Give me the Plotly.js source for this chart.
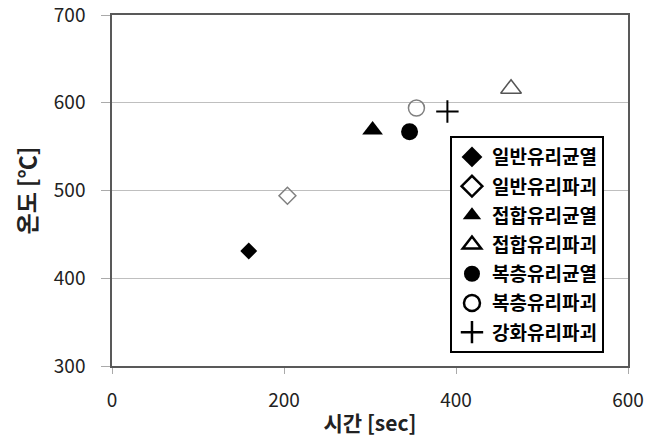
<!DOCTYPE html>
<html><head><meta charset="utf-8">
<script src="https://cdn.plot.ly/plotly-3.0.1.min.js"></script>
<style>body{margin:0;background:#fff}#c{width:651px;height:446px}</style>
</head><body><div id="c"></div>
<script>
const seriesNames = ["일반유리균열","일반유리파괴","접합유리균열","접합유리파괴","복층유리균열","복층유리파괴","강화유리파괴"];
const timeSec = [159, 204, 303, 464, 346, 354, 390];
const tempC = [431, 494, 569, 616, 567, 594, 590];
const symbols = ["diamond","diamond-open","triangle-up","triangle-up-open","circle","circle-open","cross-thin"];
const colors = ["#000","#808080","#000","#555","#000","#808080","#000"];
const sizes = [13,13,18,18,17,16,16];

const dataTraces = seriesNames.map((n,i)=>({
  type:'scatter', mode:'markers', name:n, x:[timeSec[i]], y:[tempC[i]], showlegend:false,
  marker:{symbol:symbols[i], size:sizes[i], color:colors[i],
    line:{width:symbols[i]==='cross-thin'?2:(symbols[i].includes('open')?1.5:0), color:colors[i]}}
}));
const legendTraces = seriesNames.map((n,i)=>({
  type:'scatter', mode:'markers', name:n, x:[null], y:[null], legendgroup:'g'+i, hoverinfo:'skip',
  marker:{symbol:symbols[i], size:16, color:'#000',
    line:{width:(symbols[i].includes('open')||symbols[i]==='cross-thin')?2.5:0, color:'#000'}}
}));

const layout = {
  width:651, height:446,
  margin:{l:112, r:23, t:15, b:80},
  paper_bgcolor:'#fff', plot_bgcolor:'#fff',
  font:{family:'"Noto Sans CJK KR", "Noto Sans", sans-serif', color:'#222'},
  showlegend:true,
  legend:{x:0.655, y:0.655, xanchor:'left', yanchor:'top', bgcolor:'#fff', bordercolor:'#000', borderwidth:2,
    font:{size:19, color:'#000', weight:'bold'}, tracegroupgap:1.5, itemwidth:30},
  xaxis:{range:[0,600], tickvals:[0,200,400,600], showgrid:false, zeroline:false,
    ticks:'outside', ticklen:6, tickcolor:'#aaa', showline:true, linecolor:'#595959', linewidth:1.5, mirror:true,
    tickfont:{size:19, color:'#222'}, ticklabelstandoff:10, ticklabeloverflow:'allow',
    title:{text:'시간 [sec]', font:{size:21, weight:'bold', color:'#222'}, standoff:6}},
  yaxis:{range:[300,700], tickvals:[300,400,500,600,700], showgrid:true, gridcolor:'#bfbfbf', gridwidth:1.2, zeroline:false,
    ticks:'outside', ticklen:9, tickcolor:'#aaa', showline:true, linecolor:'#595959', linewidth:1.5, mirror:true,
    tickfont:{size:19, color:'#222'}, ticklabelstandoff:12, ticklabeloverflow:'allow',
    title:{text:'온도 [℃]', font:{size:23, weight:'bold', color:'#222'}, standoff:11}}
};
Plotly.newPlot('c', dataTraces.concat(legendTraces), layout, {displayModeBar:false});
</script></body></html>
